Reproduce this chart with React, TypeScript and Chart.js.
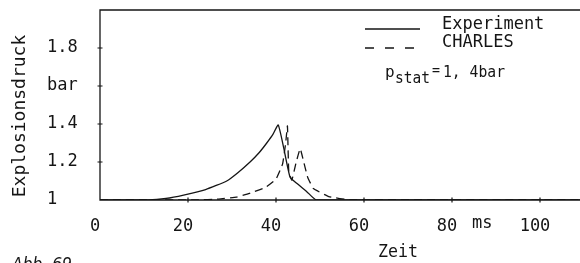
import React, { useEffect, useRef } from "react";
import { Chart, registerables } from "chart.js";

Chart.register(...registerables);

// Experiment (solid)
const expTime = [0, 11, 15, 19, 24, 28.8, 31.4, 34.1, 36.2, 37.9, 39.3, 40.5, 41.7, 43.2, 44.7, 47, 49.2, 110];
const expPressure = [1, 1, 1.008, 1.026, 1.055, 1.1, 1.145, 1.2, 1.25, 1.3, 1.345, 1.395, 1.28, 1.12, 1.088, 1.044, 1, 1];

// CHARLES (dashed)
const chTime = [0, 22, 27, 31, 34, 37.5, 40, 41.5, 42.2, 42.6, 42.9, 43.6, 44.6, 45.5, 46.3, 47.2, 48.5, 52, 57, 110];
const chPressure = [1, 1, 1.005, 1.015, 1.035, 1.065, 1.11, 1.19, 1.3, 1.39, 1.15, 1.105, 1.2, 1.27, 1.2, 1.12, 1.06, 1.018, 1, 1];

const xTickValues = [0, 20, 40, 60, 80, 100];
const xTickLabels = ["0", "20", "40", "60", "80", "100"];
const yTickValues = [1, 1.2, 1.4, 1.6, 1.8];
const yTickLabels = ["1", "1.2", "1.4", "bar", "1.8"];

const seriesNames = ["Experiment", "CHARLES"];
const xTitle = "Zeit";
const xUnit = "ms";
const yTitle = "Explosionsdruck";
const noteMain = "p";
const noteSub = "stat";
const noteRest = "1, 4bar";
const figCaption = "Abb. 69";

const INK = "#151515";
const MONO = "'DejaVu Sans Mono', monospace";

function labelFor(values: number[], labels: string[], v: number): string {
  for (let i = 0; i < values.length; i++) {
    if (Math.abs(values[i] - v) < 1e-6) return labels[i];
  }
  return "";
}

const decorPlugin = {
  id: "decor",
  beforeDraw(chart: any) {
    const { ctx, width, height } = chart;
    ctx.save();
    ctx.fillStyle = "#ffffff";
    ctx.fillRect(0, 0, width, height);
    ctx.restore();
  },
  afterDraw(chart: any) {
    const { ctx, chartArea } = chart;
    const xs = chart.scales.x;
    const ys = chart.scales.y;
    ctx.save();
    ctx.strokeStyle = INK;
    ctx.fillStyle = INK;
    ctx.lineWidth = 1.3;
    // frame
    ctx.beginPath();
    ctx.moveTo(chartArea.right, chartArea.top);
    ctx.lineTo(chartArea.left, chartArea.top);
    ctx.lineTo(chartArea.left, chartArea.bottom);
    ctx.lineTo(chartArea.right, chartArea.bottom);
    ctx.moveTo(chartArea.right, chartArea.top);
    ctx.lineTo(chartArea.right, chartArea.bottom);
    ctx.stroke();
    // tick crosses
    ctx.lineWidth = 1.2;
    ctx.beginPath();
    yTickValues.forEach((v) => {
      if (v === 1) return;
      const py = ys.getPixelForValue(v);
      ctx.moveTo(chartArea.left - 2.5, py);
      ctx.lineTo(chartArea.left + 2.5, py);
    });
    xTickValues.forEach((v) => {
      if (v === 0) return;
      const px = xs.getPixelForValue(v);
      ctx.moveTo(px, chartArea.bottom - 2.5);
      ctx.lineTo(px, chartArea.bottom + 2.5);
    });
    ctx.stroke();

    // axis titles
    ctx.font = `18px ${MONO}`;
    ctx.textAlign = "center";
    ctx.textBaseline = "middle";
    ctx.save();
    ctx.translate(20, 116);
    ctx.rotate(-Math.PI / 2);
    ctx.fillText(yTitle, 0, 0, 168);
    ctx.restore();
    ctx.font = `17px ${MONO}`;
    ctx.fillText(xTitle, 398, 253, 40);
    ctx.textAlign = "left";
    ctx.fillText(xUnit, 472, 224, 21);

    // legend
    ctx.lineWidth = 1.3;
    ctx.beginPath();
    ctx.moveTo(365, 29);
    ctx.lineTo(420, 29);
    ctx.stroke();
    ctx.setLineDash([9, 11]);
    ctx.beginPath();
    ctx.moveTo(365, 48);
    ctx.lineTo(420, 48);
    ctx.stroke();
    ctx.setLineDash([]);
    ctx.textBaseline = "alphabetic";
    ctx.font = `17px ${MONO}`;
    ctx.fillText(seriesNames[0], 442, 29, 104);
    ctx.fillText(seriesNames[1], 442, 47, 72);

    // p_stat note
    ctx.font = `16px ${MONO}`;
    ctx.fillText(noteMain, 385, 77, 10);
    ctx.font = `15px ${MONO}`;
    ctx.fillText(noteSub, 395, 83, 35);
    ctx.font = `14px ${MONO}`;
    ctx.fillText("=", 432, 75, 8);
    ctx.font = `15px ${MONO}`;
    ctx.fillText(noteRest, 443, 77, 62);

    // caption (cut off at bottom)
    ctx.font = `italic 17px 'DejaVu Sans', sans-serif`;
    ctx.fillText(figCaption, 12, 270, 60);
    ctx.restore();
  },
};

export default function App() {
  const ref = useRef<HTMLCanvasElement | null>(null);
  useEffect(() => {
    if (!ref.current) return;
    const chart = new Chart(ref.current, {
      type: "line",
      data: {
        datasets: [
          {
            label: seriesNames[0],
            data: expTime.map((t, i) => ({ x: t, y: expPressure[i] })),
            borderColor: INK,
            borderWidth: 1.3,
            pointRadius: 0,
            tension: 0.15,
            fill: false,
          },
          {
            label: seriesNames[1],
            data: chTime.map((t, i) => ({ x: t, y: chPressure[i] })),
            borderColor: INK,
            borderWidth: 1.3,
            borderDash: [8, 5],
            pointRadius: 0,
            tension: 0.1,
            fill: false,
          },
        ],
      },
      options: {
        responsive: false,
        devicePixelRatio: 1,
        animation: false,
        layout: { padding: { left: 47, top: 10, right: 16, bottom: 0 } },
        plugins: { legend: { display: false }, tooltip: { enabled: false } },
        scales: {
          x: {
            type: "linear",
            min: 0,
            max: 110,
            grid: { display: false, drawTicks: false },
            border: { display: false },
            afterBuildTicks: (s: any) => {
              s.ticks = xTickValues.map((v) => ({ value: v }));
            },
            afterFit: (s: any) => {
              s.height = 63;
              s.paddingLeft = 0;
              s.paddingRight = 0;
            },
            ticks: {
              autoSkip: false,
              maxRotation: 0,
              padding: 16,
              labelOffset: -5,
              color: INK,
              font: { family: MONO, size: 17 },
              callback: (v: any) => labelFor(xTickValues, xTickLabels, Number(v)),
            },
          },
          y: {
            type: "linear",
            min: 1,
            max: 2,
            grid: { display: false, drawTicks: false },
            border: { display: false },
            afterBuildTicks: (s: any) => {
              s.ticks = yTickValues.map((v) => ({ value: v }));
            },
            afterFit: (s: any) => {
              s.width = 53;
              s.paddingTop = 0;
              s.paddingBottom = 0;
            },
            ticks: {
              autoSkip: false,
              crossAlign: "far",
              color: INK,
              font: { family: MONO, size: 17 },
              callback: (v: any) => labelFor(yTickValues, yTickLabels, Number(v)),
            },
          },
        },
      },
      plugins: [decorPlugin],
    });
    return () => chart.destroy();
  }, []);
  return (
    <canvas
      ref={ref}
      width={600}
      height={263}
      style={{ position: "fixed", left: 0, top: 0, width: 600, height: 263 }}
    />
  );
}
